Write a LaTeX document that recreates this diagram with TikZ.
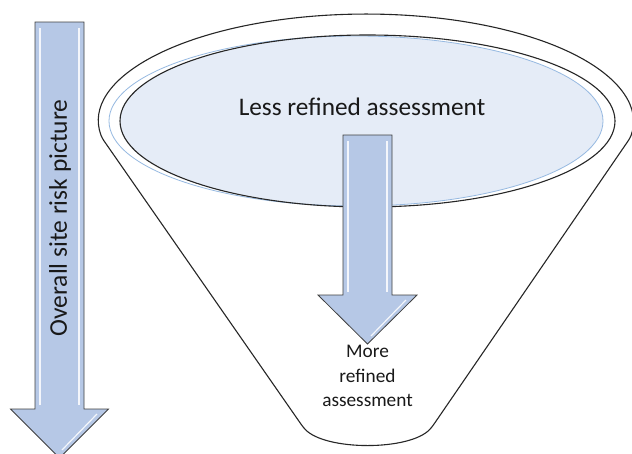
\documentclass[tikz,border=0pt]{standalone}
\usepackage{fontspec}
\setmainfont{Carlito}
\definecolor{ellfill}{RGB}{229,236,247}
\definecolor{ellblue}{RGB}{150,185,225}
\definecolor{arrfill}{RGB}{182,200,230}
\definecolor{arredge}{RGB}{64,64,64}
\tikzset{
  funnel/.style={draw=black!85, line width=1.1pt, fill=white},
  bigarrow/.style={draw=arredge, line width=0.8pt, fill=arrfill},
  hilite/.style={draw=white, line width=1.2pt, opacity=0.85},
  lbl/.style={inner sep=0pt, text=black!90}
}
\begin{document}
\begin{tikzpicture}[x=1pt,y=-1pt]
\useasboundingbox (0,0) rectangle (632,453);
% left arrow
\draw[bigarrow] (35,22) -- (84,22) -- (84,409) -- (108.5,409) -- (59.5,458) -- (10.5,409) -- (35,409) -- cycle;
\draw[hilite] (40,28) -- (40,405);
\draw[hilite] (79,28) -- (79,405);
\draw[hilite] (97,414) -- (62,450);
\node[lbl, rotate=90, font=\fontsize{25.5}{30}\selectfont] (overall) at (60,218) {Overall site risk picture};
% funnel
\draw[funnel, rounded corners=3pt] (102,138) arc[start angle=171.5, end angle=368.5, x radius=267, y radius=108]
  -- (432,427) .. controls (410,451) and (325,451) .. (303,427) -- cycle;
% inner ellipse
\begin{scope}
\clip (356,121) ellipse [x radius=247, y radius=85];
\fill[ellfill] (367.5,121) ellipse [x radius=247.5, y radius=86];
\end{scope}
\draw[ellblue, line width=0.8pt] (356,121) ellipse [x radius=247, y radius=85];
\draw[black!85, line width=1.1pt] (367.5,121) ellipse [x radius=247.5, y radius=86];
\node[lbl, font=\fontsize{25.3}{30}\selectfont] (less) at (362,107) {Less refined assessment};
% middle arrow
\draw[bigarrow] (343,135) -- (392,135) -- (392,295) -- (417,295) -- (367.5,344) -- (318,295) -- (343,295) -- cycle;
\draw[hilite] (348,141) -- (348,292);
\draw[hilite] (387,141) -- (387,292);
\draw[hilite] (406,300) -- (371,336);
\node[lbl, align=center, font=\fontsize{19.3}{24.5}\selectfont, anchor=north] (more) at (367.5,345) {More\\refined\\assessment};
\end{tikzpicture}
\end{document}
